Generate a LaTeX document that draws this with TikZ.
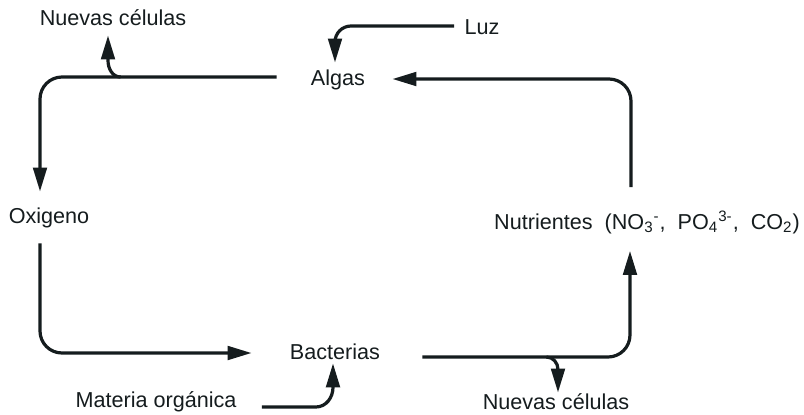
\documentclass[tikz,border=0pt]{standalone}
\usepackage{fontspec}
\setmainfont{Liberation Sans}
\usetikzlibrary{positioning, calc, arrows.meta}
\definecolor{InkDark}{HTML}{151C1E}
\definecolor{PaperWhite}{HTML}{FFFFFF}

\begin{document}
\begin{tikzpicture}[x=0.5pt, y=-0.5pt,
    lbl/.style={inner sep=0pt, text=InkDark, font=\fontsize{10.8}{13}\selectfont},
    flow/.style={line width=1.6pt, color=InkDark, rounded corners=11pt,
        -{Triangle[length=12pt, width=6.8pt]}},
    branch/.style={line width=1.6pt, color=InkDark, sharp corners,
        -{Triangle[length=12pt, width=6.8pt]}}]
    \useasboundingbox[fill=PaperWhite] (0,0) rectangle (804,414);

    % labels
    \node[lbl] (nc1)   at (113,18)  {Nuevas células};
    \node[lbl] (luz)   at (482,27)  {Luz};
    \node[lbl] (algas) at (338,80)  {Algas};
    \node[lbl] (oxi)   at (49,218)  {Oxigeno};
    \node[lbl] (nutr)  at (647,222) {Nutrientes\ \ (NO\textsubscript{3}\textsuperscript{-},\ \ PO\textsubscript{4}\textsuperscript{3-},\ \ CO\textsubscript{2})};
    \node[lbl] (bact)  at (335,352) {Bacterias};
    \node[lbl] (mat)   at (156,402) {Materia orgánica};
    \node[lbl] (nc2)   at (556,402) {Nuevas células};

    % cycle
    \draw[flow] ($(algas.west)+(-34,-3)$) -| ($(oxi.north)+(-9,-16)$);
    \draw[flow] ($(oxi.south)+(-9,15)$) |- ($(bact.west)+(-38,1)$);
    \draw[flow] ($(bact.east)+(42,5)$) -| ($(nutr.south)+(-17,17)$);
    \draw[flow] ($(nutr.north)+(-16,-23)$) |- ($(algas.east)+(27,-1)$);

    % inputs and outputs
    \draw[flow, rounded corners=8pt] ($(luz.west)+(-10,-1)$) -| ($(algas.north)+(-3,-7)$);
    \coordinate (up1) at ($(nc1.south)+(-5,34)$);
    \draw[branch] ($(algas.west)+(-190,-3)$) to[out=180, in=-90] (up1) -- ($(nc1.south)+(-5,9)$);
    \coordinate (dn2) at ($(nc2.north)+(2,-24)$);
    \draw[branch] ($(bact.east)+(166,5)$) to[out=0, in=90] (dn2) -- ($(nc2.north)+(2,-1)$);
    \coordinate (up3) at ($(bact.south)+(-2,27)$);
    \draw[branch] ($(mat.east)+(25,5)$) -- ++(54,0) to[out=0, in=-90] (up3) -- ($(bact.south)+(-2,3)$);
\end{tikzpicture}
\end{document}
